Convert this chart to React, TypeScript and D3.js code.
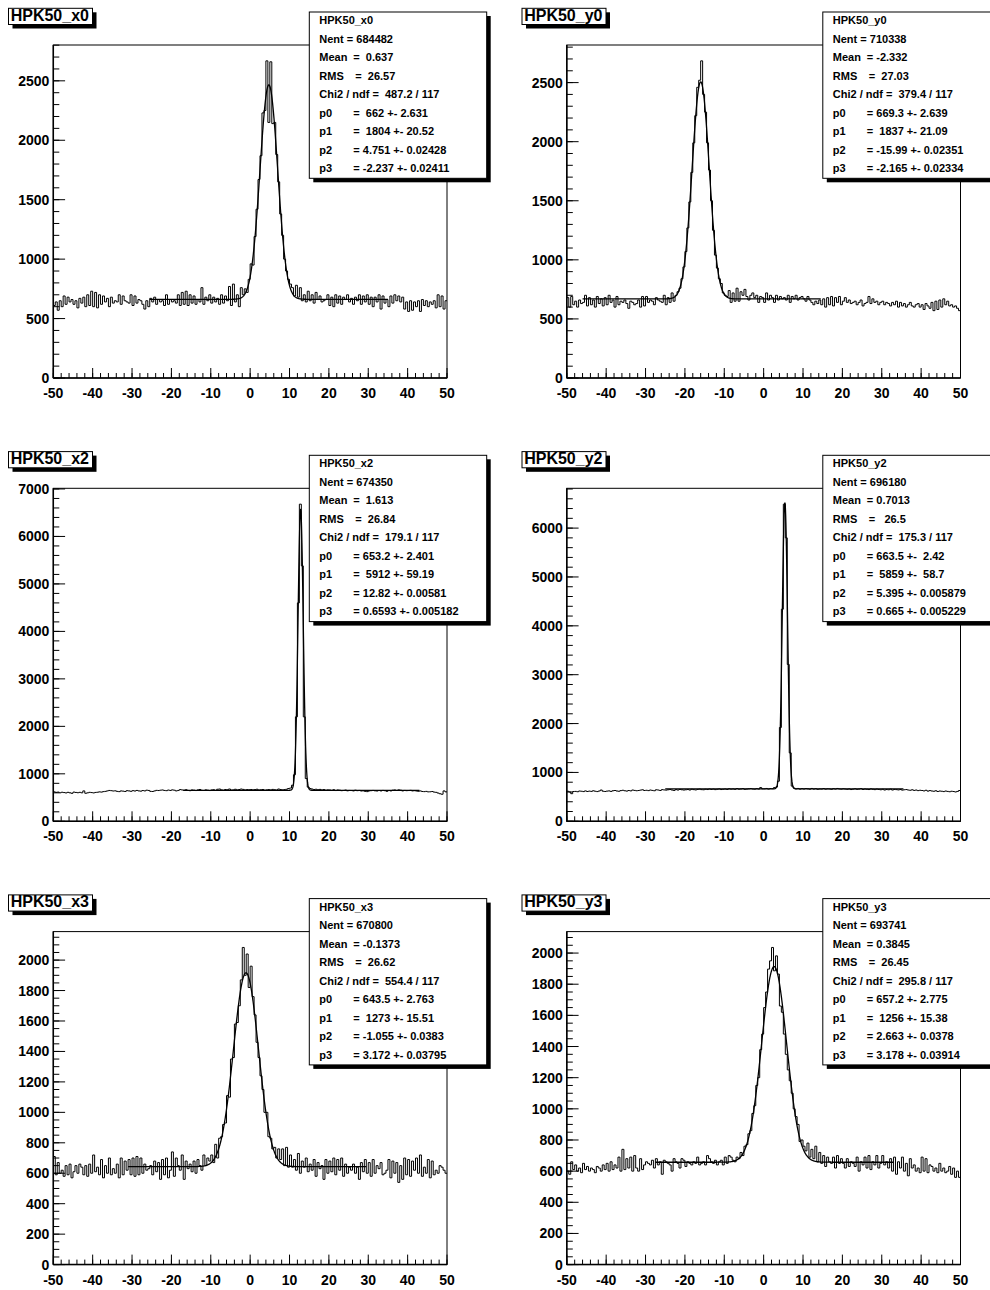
import React from "react";
import * as d3 from "d3";

const histNames = ["HPK50_x0", "HPK50_y0", "HPK50_x2", "HPK50_y2", "HPK50_x3", "HPK50_y3"];
const xLow = -50;
const xHigh = 50;
const binWidth = 0.5;

// bin contents, 200 bins of 0.5 from -50 to 50
const binsX0 = [
  610, 640, 570, 650, 600, 690, 620, 680, 640, 660, 620, 650, 590, 670, 630, 680, 600, 700, 610, 730,
  600, 720, 590, 700, 620, 690, 640, 670, 600, 680, 630, 650, 640, 700, 620, 690, 650, 640, 630, 700,
  610, 690, 630, 660, 650, 620, 580, 650, 600, 670, 640, 680, 620, 660, 640, 650, 610, 700, 620, 660,
  640, 650, 630, 700, 610, 720, 620, 730, 610, 700, 630, 690, 620, 660, 640, 760, 620, 680, 650, 700,
  630, 680, 640, 670, 620, 700, 630, 690, 650, 770, 610, 790, 640, 700, 600, 760, 700, 750, 720, 830,
  960, 950, 1190, 1420, 1670, 1870, 2230, 2250, 2668, 2150, 2660, 2140, 2150, 1880, 1650, 1380, 1200, 1000, 900, 830,
  790, 760, 690, 780, 680, 760, 650, 700, 640, 730, 650, 700, 630, 720, 660, 690, 640, 650, 660, 700,
  610, 680, 600, 700, 630, 690, 620, 680, 660, 700, 640, 670, 620, 680, 650, 700, 620, 690, 640, 700,
  620, 680, 600, 680, 640, 700, 580, 690, 630, 660, 600, 690, 630, 700, 650, 690, 640, 680, 580, 640,
  560, 650, 570, 640, 600, 650, 560, 660, 610, 650, 600, 640, 620, 650, 590, 700, 600, 690, 580, 650,
];
const binsY0 = [
  680, 600, 690, 620, 650, 600, 660, 630, 640, 700, 610, 680, 620, 660, 600, 690, 630, 670, 610, 680,
  620, 700, 640, 660, 600, 690, 620, 650, 640, 660, 630, 590, 650, 640, 620, 630, 660, 600, 690, 610,
  690, 640, 660, 650, 620, 680, 660, 650, 640, 700, 620, 680, 640, 720, 650, 700, 730, 760, 840, 940,
  1070, 1270, 1490, 1740, 1990, 2220, 2460, 2520, 2684, 2400, 2250, 1990, 1760, 1500, 1250, 1040, 930, 840, 800, 720,
  700, 690, 740, 640, 720, 650, 760, 650, 730, 700, 750, 690, 660, 700, 720, 680, 700, 640, 690, 680,
  640, 720, 660, 700, 680, 640, 700, 660, 690, 670, 680, 660, 700, 640, 690, 670, 700, 660, 680, 690,
  670, 650, 690, 660, 640, 620, 650, 630, 660, 620, 670, 600, 680, 620, 690, 610, 680, 640, 690, 620,
  650, 680, 640, 660, 630, 640, 650, 620, 640, 660, 610, 630, 640, 690, 630, 670, 640, 650, 620, 640,
  650, 620, 640, 630, 610, 640, 620, 650, 600, 640, 610, 630, 600, 620, 640, 610, 600, 620, 630, 600,
  620, 580, 630, 610, 590, 640, 570, 650, 580, 660, 600, 670, 620, 650, 610, 620, 600, 610, 590, 570,
];
const binsX2 = [
  620, 610, 615, 600, 612, 605, 598, 610, 600, 590, 615, 608, 602, 610, 600, 640, 590, 600, 610, 605,
  598, 608, 612, 620, 615, 625, 630, 640, 650, 645, 638, 642, 630, 625, 640, 635, 628, 645, 640, 632,
  645, 638, 650, 640, 635, 648, 640, 655, 650, 630, 628, 640, 652, 648, 655, 660, 650, 645, 658, 650,
  662, 655, 640, 650, 668, 660, 655, 665, 650, 645, 660, 655, 648, 660, 670, 652, 650, 662, 655, 648,
  660, 665, 650, 675, 680, 662, 655, 670, 665, 680, 658, 662, 675, 660, 670, 680, 672, 660, 668, 665,
  670, 662, 668, 675, 660, 664, 670, 655, 662, 668, 660, 672, 665, 658, 680, 670, 662, 668, 675, 690,
  700, 760, 980, 2200, 4600, 6680, 5380, 2200, 900, 720, 690, 680, 670, 675, 665, 672, 660, 668, 655, 662,
  660, 652, 665, 648, 660, 655, 645, 650, 658, 642, 650, 648, 640, 655, 645, 650, 638, 642, 630, 625,
  640, 645, 650, 642, 638, 648, 640, 650, 645, 632, 648, 640, 655, 660, 650, 662, 655, 640, 650, 645,
  648, 652, 640, 645, 638, 632, 640, 628, 625, 630, 620, 622, 628, 615, 610, 595, 580, 570, 640, 620,
];
const binsY2 = [
  615, 600, 565, 610, 612, 605, 620, 615, 608, 622, 610, 618, 612, 625, 615, 608, 620, 640, 615, 610,
  618, 622, 612, 625, 630, 620, 615, 628, 635, 625, 618, 630, 622, 640, 632, 625, 630, 638, 645, 630,
  635, 628, 640, 632, 625, 645, 640, 630, 648, 642, 638, 645, 650, 640, 632, 648, 640, 652, 645, 640,
  645, 650, 640, 655, 648, 642, 652, 658, 648, 645, 655, 650, 660, 652, 658, 648, 655, 662, 650, 655,
  660, 652, 665, 658, 662, 655, 670, 658, 662, 668, 655, 660, 665, 670, 662, 658, 668, 660, 690, 665,
  665, 672, 660, 670, 668, 690, 700, 820, 1920, 4340, 6490, 5800, 3210, 1400, 720, 680, 665, 672, 660, 668,
  662, 670, 665, 658, 672, 660, 668, 655, 662, 660, 670, 658, 665, 662, 655, 668, 660, 672, 662, 658,
  665, 660, 655, 662, 650, 658, 665, 655, 660, 668, 652, 660, 655, 650, 662, 655, 648, 658, 652, 645,
  655, 640, 650, 645, 658, 640, 652, 648, 642, 650, 638, 645, 650, 640, 635, 645, 632, 640, 628, 635,
  630, 622, 635, 618, 628, 620, 615, 625, 610, 620, 615, 608, 620, 612, 605, 615, 610, 600, 612, 630,
];
const binsX3 = [
  710, 590, 670, 600, 620, 580, 650, 590, 660, 570, 610, 650, 600, 660, 640, 590, 650, 580, 660, 600,
  720, 610, 640, 590, 690, 570, 650, 600, 700, 590, 630, 600, 660, 570, 700, 590, 680, 620, 690, 590,
  700, 580, 710, 590, 700, 600, 660, 620, 630, 650, 590, 680, 610, 670, 560, 690, 590, 700, 570, 620,
  740, 580, 700, 650, 620, 720, 560, 680, 630, 660, 610, 680, 600, 690, 650, 620, 720, 650, 700, 680,
  720, 670, 790, 700, 830, 840, 920, 930, 1110, 1100, 1350, 1360, 1580, 1590, 1700, 1870, 2083, 1900, 2040, 1820,
  1960, 1760, 1640, 1460, 1360, 1240, 1150, 1000, 1000, 840, 830, 760, 770, 700, 760, 690, 760, 650, 770, 640,
  720, 640, 690, 620, 730, 600, 680, 640, 700, 610, 660, 620, 690, 580, 670, 630, 650, 560, 690, 600,
  680, 610, 700, 590, 690, 620, 700, 580, 660, 600, 640, 620, 660, 600, 640, 560, 670, 610, 690, 600,
  670, 580, 690, 600, 650, 630, 670, 590, 600, 620, 690, 570, 680, 600, 670, 540, 650, 560, 700, 590,
  690, 580, 680, 620, 700, 600, 720, 580, 640, 600, 690, 570, 680, 590, 620, 600, 650, 640, 620, 600,
];
const binsY3 = [
  600, 580, 660, 610, 640, 600, 620, 590, 650, 610, 630, 600, 620, 610, 590, 630, 620, 600, 640, 610,
  650, 600, 660, 610, 640, 620, 690, 600, 740, 610, 680, 620, 690, 600, 700, 620, 600, 680, 610, 640,
  660, 650, 640, 670, 620, 680, 640, 660, 580, 670, 660, 650, 640, 600, 680, 660, 650, 620, 680, 670,
  630, 660, 650, 640, 660, 650, 690, 640, 650, 660, 640, 700, 680, 660, 650, 670, 640, 660, 670, 640,
  690, 650, 700, 690, 670, 660, 690, 680, 720, 700, 760, 770, 840, 860, 970, 1020, 1150, 1200, 1380, 1480,
  1650, 1750, 1897, 1950, 2036, 1886, 1982, 1865, 1660, 1620, 1480, 1350, 1250, 1180, 1100, 1000, 950, 900, 790, 800,
  760, 730, 780, 690, 740, 680, 760, 660, 720, 650, 700, 630, 690, 660, 650, 690, 620, 700, 650, 680,
  650, 620, 680, 630, 660, 650, 630, 690, 600, 660, 640, 690, 620, 700, 610, 660, 640, 700, 620, 650,
  700, 640, 660, 620, 680, 600, 690, 580, 660, 620, 690, 600, 650, 570, 680, 620, 640, 600, 620, 590,
  690, 600, 680, 590, 640, 630, 600, 620, 590, 650, 600, 620, 590, 600, 630, 580, 620, 560, 600, 560,
];
const histBins = [binsX0, binsY0, binsX2, binsY2, binsX3, binsY3];

// gaus + pol0 fit results from the stats boxes
const fitP0 = [662, 669.3, 653.2, 663.5, 643.5, 657.2];
const fitP1 = [1804, 1837, 5912, 5859, 1273, 1256];
const fitP2 = [4.751, -15.99, 12.82, 5.395, -1.055, 2.663];
const fitP3 = [-2.237, -2.165, 0.6593, 0.665, 3.172, 3.178];
const fitLo = [-25.5, -46, -17, -25, -31, -27.5];
const fitHi = [35, 14.5, 43, 35.5, 29.5, 33];

// stats box texts
const statNent = ["684482", "710338", "674350", "696180", "670800", "693741"];
const statMean = ["=  0.637", "= -2.332", "=  1.613", "= 0.7013", "= -0.1373", "= 0.3845"];
const statRms = ["=  26.57", "=  27.03", "=  26.84", "=   26.5", "=  26.62", "=  26.45"];
const statChi2 = ["487.2 / 117", "379.4 / 117", "179.1 / 117", "175.3 / 117", "554.4 / 117", "295.8 / 117"];
const statPar0 = ["=  662 +- 2.631", "= 669.3 +- 2.639", "= 653.2 +- 2.401", "= 663.5 +-  2.42", "= 643.5 +- 2.763", "= 657.2 +- 2.775"];
const statPar1 = ["=  1804 +- 20.52", "=  1837 +- 21.09", "=  5912 +- 59.19", "=  5859 +-  58.7", "=  1273 +- 15.51", "=  1256 +- 15.38"];
const statPar2 = ["= 4.751 +- 0.02428", "= -15.99 +- 0.02351", "= 12.82 +- 0.00581", "= 5.395 +- 0.005879", "= -1.055 +- 0.0383", "= 2.663 +- 0.0378"];
const statPar3 = ["= -2.237 +- 0.02411", "= -2.165 +- 0.02334", "= 0.6593 +- 0.005182", "= 0.665 +- 0.005229", "= 3.172 +- 0.03795", "= 3.178 +- 0.03914"];

// y axis divisions
const yMajor = [500, 500, 1000, 1000, 200, 200];
const yMinor = [100, 100, 200, 200, 50, 50];
const xMajorTicks = [-50, -40, -30, -20, -10, 0, 10, 20, 30, 40, 50];

const W = 990;
const H = 1290;
const padX = [0, 513.5];
const padY = [0, 443.3, 886.6];
const frame = { left: 53.3, right: 447, top: 45, bottom: 378 };
const font = "'Liberation Sans', Arial, Helvetica, sans-serif";

// keep the runs of spaces that ROOT puts in its stats lines
const nb = (s: string) => s.replace(/ /g, "\u00A0");

function Panel({ k }: { k: number }) {
  const bins = histBins[k];
  const ox = padX[k % 2];
  const oy = padY[Math.floor(k / 2)];
  const ymax = (d3.max(bins) as number) * 1.05;

  const x = d3.scaleLinear().domain([xLow, xHigh]).range([frame.left, frame.right]);
  const y = d3.scaleLinear().domain([0, ymax]).range([frame.bottom, frame.top]);

  // step outline like ROOT's default histogram drawing
  let d = "";
  bins.forEach((v, i) => {
    const x0 = x(xLow + i * binWidth);
    const x1 = x(xLow + (i + 1) * binWidth);
    d += (i === 0 ? `M${x0},${y(v)}` : `V${y(v)}`) + `H${x1}`;
  });

  const f = (t: number) =>
    fitP0[k] + fitP1[k] * Math.exp(-0.5 * Math.pow((t - fitP2[k]) / fitP3[k], 2));
  const fitPts = d3.range(fitLo[k], fitHi[k] + 0.001, 0.05);
  const fitPath = d3
    .line<number>()
    .x((t) => x(t))
    .y((t) => y(f(t)))(fitPts) as string;

  const yMajTicks = d3.range(0, ymax + 1e-6, yMajor[k]);
  const yMinTicks = d3.range(0, ymax + 1e-6, yMinor[k]);
  const xMinTicks = d3.range(xLow, xHigh + 1e-6, 2);

  const clipId = `clip${k}`;
  const sx = 309.3;
  const sy = 12;
  const sw = 177.4;
  const sh = 166.3;
  const tx = sx + 10;
  const lh = 18.5;
  const statRows: [string, string, number][] = [
    ["Mean", statMean[k], 34],
    ["RMS", statRms[k], 36],
  ];
  const parRows: [string, string][] = [
    ["p0", statPar0[k]],
    ["p1", statPar1[k]],
    ["p2", statPar2[k]],
    ["p3", statPar3[k]],
  ];

  return (
    <g transform={`translate(${ox},${oy})`} fontFamily={font} fontWeight="bold">
      <defs>
        <clipPath id={clipId}>
          <rect x={frame.left} y={frame.top} width={frame.right - frame.left} height={frame.bottom - frame.top} />
        </clipPath>
      </defs>
      <rect
        x={frame.left}
        y={frame.top}
        width={frame.right - frame.left}
        height={frame.bottom - frame.top}
        fill="white"
        stroke="black"
        strokeWidth={1}
      />
      <g clipPath={`url(#${clipId})`}>
        <path d={d} fill="none" stroke="black" strokeWidth={1} />
        <path d={fitPath} fill="none" stroke="black" strokeWidth={1.3} />
      </g>

      {/* y axis */}
      <line x1={frame.left} x2={frame.left} y1={frame.top} y2={frame.bottom} stroke="black" strokeWidth={1.5} />
      {yMinTicks.map((v) => (
        <line key={`ym${v}`} x1={frame.left} x2={frame.left + 6} y1={y(v)} y2={y(v)} stroke="black" strokeWidth={1} />
      ))}
      {yMajTicks.map((v) => (
        <g key={`yM${v}`}>
          <line x1={frame.left} x2={frame.left + 11.8} y1={y(v)} y2={y(v)} stroke="black" strokeWidth={1} />
          <text x={frame.left - 4} y={y(v) + 5} fontSize={14} textAnchor="end">
            {v}
          </text>
        </g>
      ))}

      {/* x axis */}
      <line x1={frame.left} x2={frame.right} y1={frame.bottom} y2={frame.bottom} stroke="black" strokeWidth={1.5} />
      {xMinTicks.map((v) => (
        <line key={`xm${v}`} x1={x(v)} x2={x(v)} y1={frame.bottom} y2={frame.bottom - 5} stroke="black" strokeWidth={1} />
      ))}
      {xMajorTicks.map((v) => (
        <g key={`xM${v}`}>
          <line x1={x(v)} x2={x(v)} y1={frame.bottom} y2={frame.bottom - 10} stroke="black" strokeWidth={1} />
          <text x={x(v)} y={frame.bottom + 20} fontSize={14} textAnchor="middle">
            {v}
          </text>
        </g>
      ))}

      {/* title box */}
      <rect x={12.5} y={12.3} width={84} height={16.2} fill="black" />
      <rect x={8.5} y={8.3} width={84} height={16.2} fill="white" stroke="black" strokeWidth={1} />
      <text x={10.7} y={20.9} fontSize={16}>
        {histNames[k]}
      </text>

      {/* stats box */}
      <rect x={sx + 4} y={sy + 4} width={sw} height={sh} fill="black" />
      <rect x={sx} y={sy} width={sw} height={sh} fill="white" stroke="black" strokeWidth={1} />
      <g fontSize={11}>
        <text x={tx} y={sy + 12}>
          {histNames[k]}
        </text>
        <text x={tx} y={sy + 12 + lh}>
          {nb(`Nent = ${statNent[k]}`)}
        </text>
        {statRows.map(([lab, val, off], i) => (
          <g key={lab}>
            <text x={tx} y={sy + 12 + lh * (2 + i)}>
              {lab}
            </text>
            <text x={tx + off} y={sy + 12 + lh * (2 + i)}>
              {nb(val)}
            </text>
          </g>
        ))}
        <text x={tx} y={sy + 12 + lh * 4}>
          {nb(`Chi2 / ndf =  ${statChi2[k]}`)}
        </text>
        {parRows.map(([lab, val], i) => (
          <g key={lab}>
            <text x={tx} y={sy + 12 + lh * (5 + i)}>
              {lab}
            </text>
            <text x={tx + 34} y={sy + 12 + lh * (5 + i)}>
              {nb(val)}
            </text>
          </g>
        ))}
      </g>
    </g>
  );
}

export default function App() {
  return (
    <svg
      width={W}
      height={H}
      viewBox={`0 0 ${W} ${H}`}
      style={{ position: "absolute", left: 0, top: 0, background: "white" }}
    >
      <rect x={0} y={0} width={W} height={H} fill="white" />
      {histNames.map((n, k) => (
        <Panel key={n} k={k} />
      ))}
    </svg>
  );
}
